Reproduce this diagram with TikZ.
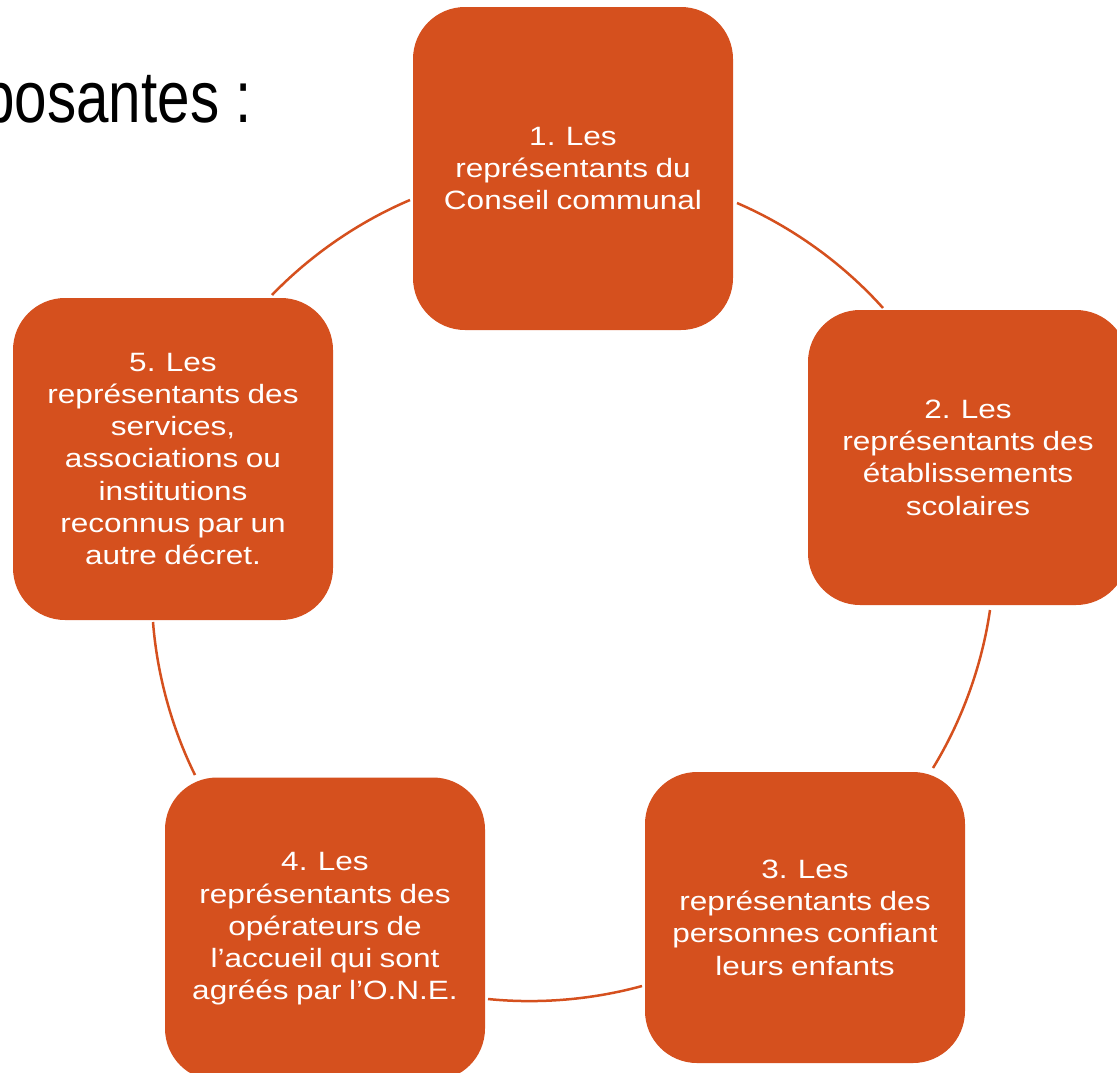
\documentclass[tikz,border=0pt]{standalone}
\usepackage{fontspec}
\setmainfont{Liberation Sans}
\newfontfamily\boxfont[FakeStretch=1.19,WordSpace=0.85]{Liberation Sans}
\newfontfamily\titlefont[FakeStretch=0.8]{Liberation Sans}
\definecolor{cyc}{RGB}{213,80,30}
\tikzset{
  cbox/.style={fill=cyc, draw=none, rounded corners=52pt, text=white, align=center,
    font=\boxfont\fontsize{26.5}{32.3}\selectfont, inner sep=0pt},
  arcline/.style={draw=cyc, line width=2.5pt},
  arcbend/.style={bend left=#1, looseness=0.85}
}
\begin{document}
\begin{tikzpicture}[x=1pt,y=1pt]
\useasboundingbox (0,0) rectangle (1117,-1072);
% title (clipped at the left edge, as in the reference)
\node[font=\titlefont\fontsize{73}{80}\selectfont, anchor=base east, inner sep=0pt] (title) at (252,-122) {posantes :};
% boxes
\node[cbox, minimum width=320pt, minimum height=323pt] (b1) at (573,-168.5)
  {1. Les\\représentants du\\Conseil communal};
\node[cbox, minimum width=320pt, minimum height=295pt] (b2) at (968,-457.5)
  {2. Les\\représentants des\\établissements\\scolaires};
\node[cbox, minimum width=320pt, minimum height=291pt] (b3) at (805,-917.5)
  {3. Les\\représentants des\\personnes confiant\\leurs enfants};
\node[cbox, minimum width=320pt, minimum height=303pt] (b4) at (325,-929)
  {4. Les\\représentants des\\opérateurs de\\l’accueil qui sont\\agréés par l’O.N.E.};
\node[cbox, minimum width=320pt, minimum height=322pt] (b5) at (173,-459)
  {5. Les\\représentants des\\services,\\associations ou\\institutions\\reconnus par un\\autre décret.};
% arc end points
\coordinate (p12a) at (737,-203);
\coordinate (p12b) at (883,-308);
\coordinate (p23a) at (990,-610);
\coordinate (p23b) at (933,-768);
\coordinate (p34a) at (642,-986);
\coordinate (p34b) at (488,-999);
\coordinate (p45a) at (195,-775);
\coordinate (p45b) at (153,-622);
\coordinate (p51a) at (272,-295);
\coordinate (p51b) at (410,-200);
% arcs
\draw[arcline] (p12a) to[arcbend=12.4] (p12b);
\draw[arcline] (p23a) to[arcbend=11.6] (p23b);
\draw[arcline] (p34a) to[arcbend=10.6] (p34b);
\draw[arcline] (p45a) to[arcbend=10.9] (p45b);
\draw[arcline] (p51a) to[arcbend=11.5] (p51b);
\end{tikzpicture}
\end{document}
